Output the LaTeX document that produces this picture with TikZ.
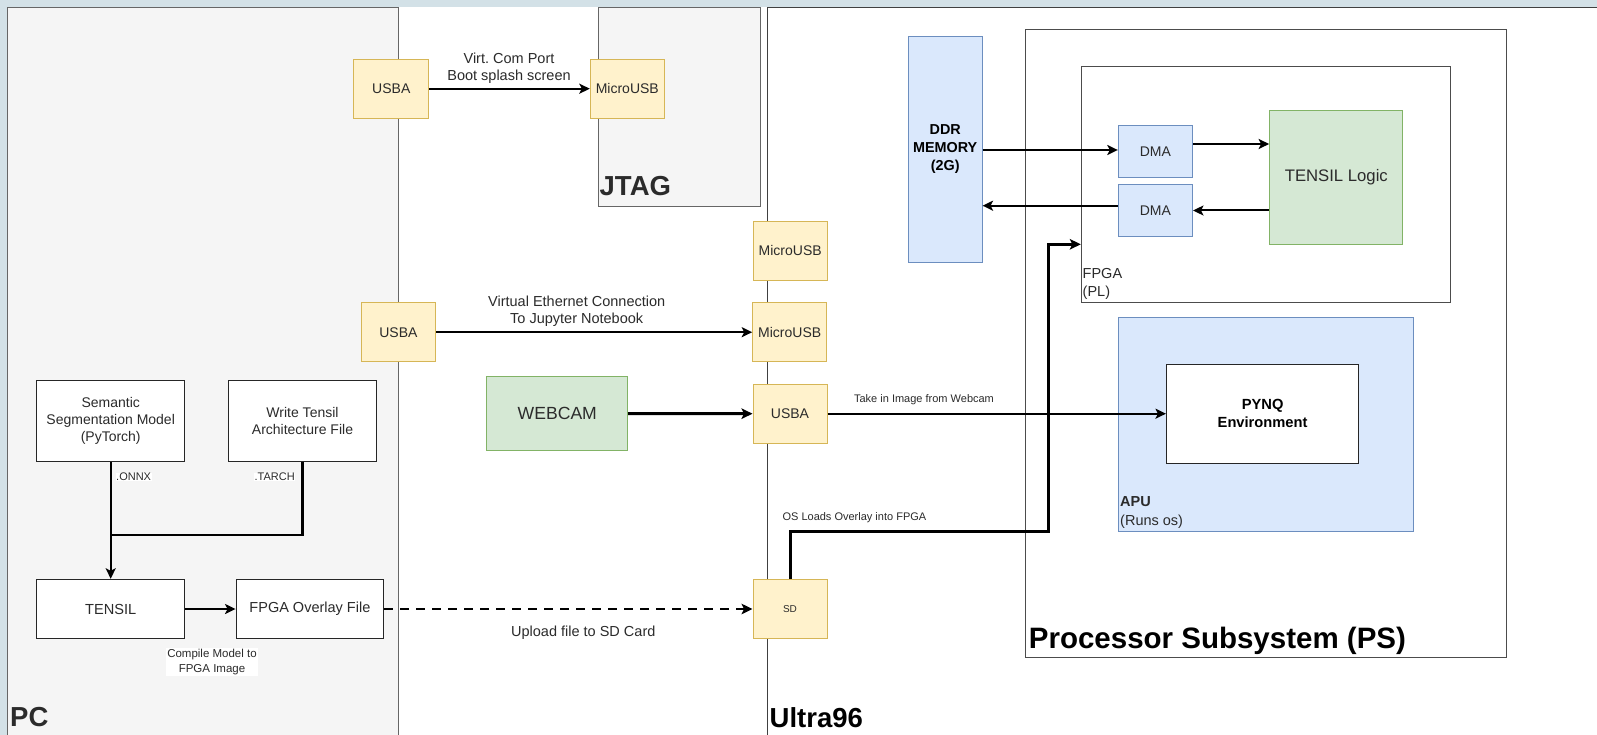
\documentclass[tikz,border=0pt]{standalone}
\usepackage{fontspec}
\setmainfont{Liberation Sans}
\usetikzlibrary{arrows.meta}
\frenchspacing
\definecolor{bgc}{HTML}{D3E1E7}
\definecolor{greyfill}{HTML}{F5F5F5}
\definecolor{greyline}{HTML}{666666}
\definecolor{yfill}{HTML}{FFF2CC}
\definecolor{ydraw}{HTML}{D6B656}
\definecolor{bfill}{HTML}{DAE8FC}
\definecolor{bdraw}{HTML}{6C8EBF}
\definecolor{gfill}{HTML}{D5E8D4}
\definecolor{gdraw}{HTML}{82B366}
\definecolor{txt}{HTML}{2B2B2B}
\tikzset{
  region/.style={fill=greyfill, draw=greyline, line width=1pt},
  basebox/.style={line width=1pt, inner sep=0pt, text=txt, align=center, font=\fontsize{14}{17}\selectfont},
  ybox/.style={basebox, fill=yfill, draw=ydraw},
  bbox/.style={basebox, fill=bfill, draw=bdraw},
  gbox/.style={basebox, fill=gfill, draw=gdraw},
  wbox/.style={basebox, fill=white, draw=black!85},
  frame/.style={draw=black!70, line width=1pt, fill=none, inner sep=0pt},
  conn/.style={line width=2pt, -{Stealth[length=10.5pt,width=10pt,inset=2.5pt]}},
  thickconn/.style={line width=3pt, -{Stealth[length=11pt,width=10.5pt,inset=2.5pt]}},
  elabel/.style={inner sep=0pt, text=txt, align=center, font=\fontsize{14.5}{17.5}\selectfont},
  slabel/.style={inner sep=1pt, text=txt, align=center, font=\fontsize{11}{15}\selectfont},
  title/.style={inner sep=0pt, text=txt, font=\fontsize{27.5}{30}\selectfont\bfseries},
}
\begin{document}
\begin{tikzpicture}[x=1pt, y=-1pt]
  % background and frame
  \fill[bgc] (0,0) rectangle (1597,735);
  \clip (0,0) rectangle (1597,735);
  \fill[white] (7.3,7.3) rectangle (1620,760);
  \draw[region] (7.3,7.3) rectangle (398.7,760);
  \draw[draw=black!75, line width=1pt, fill=white] (767.7,7.3) rectangle (1640,760);
  \draw[region] (598,7.3) rectangle (760.7,206.7);

  % region titles
  \node[title, anchor=base west] (jtagT) at (599.5,196) {JTAG};
  \node[title, anchor=base west] (pcT) at (10,726.7) {PC};
  \node[title, anchor=base west, text=black] (uT) at (769.5,727.3) {Ultra96};

  % Processor subsystem frames
  \node[frame, minimum width=481pt, minimum height=627.7pt] (ps) at (1266.4,343.3) {};
  \node[title, anchor=base west, text=black, font=\fontsize{29.5}{32}\selectfont\bfseries] (psT) at (1028.7,648.7) {Processor Subsystem (PS)};
  \node[frame, minimum width=369.6pt, minimum height=236.4pt] (fpgabox) at (1266.1,184.5) {};
  \node[inner sep=0pt, anchor=west, align=left, text=txt, font=\fontsize{14.5}{18}\selectfont] (fpgaT) at (1082.5,284) {FPGA\\(PL)};
  \node[bbox, minimum width=295.5pt, minimum height=214pt] (apu) at (1266.2,424.7) {};
  \node[inner sep=0pt, anchor=west, align=left, text=txt, font=\fontsize{14.5}{18.4}\selectfont] (apuT) at (1120,512.5) {\textbf{APU}\\(Runs os)};

  % nodes
  \node[ybox, minimum width=74.7pt, minimum height=58.7pt] (usbTop) at (391.3,88.7) {USBA};
  \node[ybox, minimum width=74pt, minimum height=58.7pt] (microJ) at (627.3,88.7) {MicroUSB};
  \node[bbox, minimum width=73.7pt, minimum height=225.6pt, text=black, font=\fontsize{14.4}{18}\selectfont\bfseries] (ddr) at (945.2,149.5) {DDR\\MEMORY\\(2G)};
  \node[bbox, minimum width=74.2pt, minimum height=51.6pt] (dma1) at (1155.4,151.5) {DMA};
  \node[bbox, minimum width=74.2pt, minimum height=52pt] (dma2) at (1155.4,210.3) {DMA};
  \node[gbox, minimum width=133.3pt, minimum height=133.7pt, font=\fontsize{16.7}{20}\selectfont] (tlogic) at (1336.3,177.2) {TENSIL Logic};
  \node[ybox, minimum width=73.7pt, minimum height=59.3pt] (microU1) at (790.2,250.7) {MicroUSB};
  \node[ybox, minimum width=74.7pt, minimum height=59pt] (usbaMid) at (398.4,332.2) {USBA};
  \node[ybox, minimum width=74pt, minimum height=59pt] (microU2) at (789.7,332.2) {MicroUSB};
  \node[gbox, minimum width=140.7pt, minimum height=73.6pt, font=\fontsize{17.6}{20}\selectfont] (webcam) at (557.3,413.5) {WEBCAM};
  \node[ybox, minimum width=74pt, minimum height=59.3pt] (usbaU) at (790,413.7) {USBA};
  \node[wbox, minimum width=192.3pt, minimum height=99.3pt, text=black, font=\fontsize{14.7}{18}\selectfont\bfseries] (pynq) at (1262.6,413.7) {PYNQ\\Environment};
  \node[wbox, minimum width=148pt, minimum height=81.3pt] (semantic) at (110.7,420.7) {Semantic\\Segmentation Model\\(PyTorch)};
  \node[wbox, minimum width=148.4pt, minimum height=81.3pt] (writeT) at (302.5,420.7) {Write Tensil\\Architecture File};
  \node[wbox, minimum width=148pt, minimum height=59.4pt, font=\fontsize{14.6}{17}\selectfont] (tensil) at (110.7,609) {TENSIL};
  \node[wbox, minimum width=147.7pt, minimum height=59.4pt, font=\fontsize{14.5}{17}\selectfont] (overlay) at (309.9,609) {FPGA Overlay File};
  \node[ybox, minimum width=74pt, minimum height=59.4pt, font=\fontsize{10}{12}\selectfont] (sd) at (790,609) {SD};

  % connectors
  \draw[conn] (usbTop.east) -- (microJ.west);
  \node[elabel] (lblVirt) at (509,68.3) {Virt. Com Port\\Boot splash screen};

  \draw[conn] (ddr.east |- 0,150) -- (dma1.west |- 0,150);
  \draw[conn] (dma2.west |- 0,205.7) -- (ddr.east |- 0,205.7);
  \draw[conn] (dma1.east |- 0,144) -- (tlogic.west |- 0,144);
  \draw[conn] (tlogic.west |- 0,210.5) -- (dma2.east |- 0,210.5);

  \draw[conn] (usbaMid.east) -- (microU2.west);
  \node[elabel] (lblEth) at (576.7,311.3) {Virtual Ethernet Connection\\To Jupyter Notebook};

  \draw[thickconn] (webcam.east) -- (usbaU.west);
  \draw[conn] (usbaU.east) -- (pynq.west);
  \node[slabel, inner sep=0pt] (lblTake) at (924,400) {Take in Image from Webcam};

  \coordinate (bendA) at (1048,531.7);
  \coordinate (bendB) at (1048,244.3);
  \draw[thickconn] (sd.north) -- (sd.north |- bendA) -- (bendA) -- (bendB) -- (fpgabox.west |- bendB);
  \node[slabel, inner sep=0pt] (lblOS) at (854.4,517.7) {OS Loads Overlay into FPGA};

  \coordinate (join) at (110.7,534.7);
  \draw[line width=2.3pt] (writeT.south) -- (writeT.south |- join) -- (join);
  \draw[line width=2.3pt, -{Stealth[length=10.5pt,width=10pt,inset=2.5pt]}] (semantic.south) -- (tensil.north);
  \node[slabel, fill=white, anchor=west, inner sep=0.5pt] (lblOnnx) at (115.5,477) {.ONNX};
  \node[slabel, fill=white, anchor=east, inner sep=0.5pt] (lblTarch) at (295.5,477) {.TARCH};

  \draw[conn] (tensil.east) -- (overlay.west);
  \node[slabel, fill=white, font=\fontsize{11.5}{15}\selectfont] (lblCompile) at (212,661.8) {Compile Model to\\FPGA Image};

  \draw[line width=2.7pt, dash pattern=on 9pt off 7pt, -{Stealth[length=11pt,width=10.5pt,inset=2.5pt]}] (overlay.east) -- (sd.west);
  \node[elabel] (lblUpload) at (583.3,632.7) {Upload file to SD Card};
\end{tikzpicture}
\end{document}
